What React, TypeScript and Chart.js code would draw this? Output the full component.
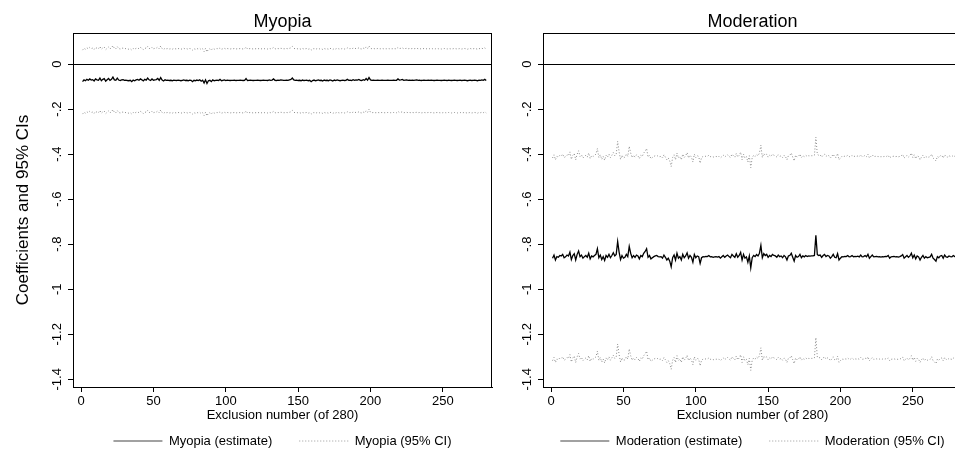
import React, { useEffect, useRef } from 'react';
import { Chart, registerables } from 'chart.js';

Chart.register(...registerables);

const FONT = '"Liberation Sans", Arial, Helvetica, sans-serif';

// ---------- data ----------
const exclusions = Array.from({ length: 280 }, (_, i) => i + 1);
const xTickValues = [0, 50, 100, 150, 200, 250];
const yTickValues = [0, -0.2, -0.4, -0.6, -0.8, -1, -1.2, -1.4];
const yTickLabels = ['0', '-.2', '-.4', '-.6', '-.8', '-1', '-1.2', '-1.4'];

const myopiaEstimate = [
  -0.078,-0.070,-0.074,-0.068,-0.072,-0.066,-0.071,-0.069,-0.075,-0.066,-0.070,-0.072,-0.062,-0.074,-0.068,-0.065,-0.076,-0.070,-0.064,-0.072,
  -0.068,-0.058,-0.070,-0.072,-0.062,-0.071,-0.073,-0.070,-0.069,-0.072,-0.071,-0.073,-0.074,-0.072,-0.078,-0.071,-0.074,-0.070,-0.068,-0.072,
  -0.066,-0.070,-0.075,-0.068,-0.071,-0.062,-0.070,-0.073,-0.066,-0.072,-0.070,-0.069,-0.064,-0.072,-0.060,-0.071,-0.075,-0.070,-0.072,-0.071,
  -0.073,-0.072,-0.074,-0.071,-0.072,-0.073,-0.071,-0.072,-0.074,-0.072,-0.070,-0.073,-0.072,-0.074,-0.071,-0.072,-0.078,-0.072,-0.074,-0.071,
  -0.073,-0.070,-0.076,-0.072,-0.084,-0.070,-0.086,-0.074,-0.072,-0.078,-0.070,-0.074,-0.072,-0.071,-0.073,-0.068,-0.074,-0.072,-0.070,-0.073,
  -0.071,-0.072,-0.073,-0.072,-0.072,-0.071,-0.073,-0.072,-0.072,-0.071,-0.072,-0.073,-0.072,-0.064,-0.073,-0.072,-0.071,-0.072,-0.073,-0.072,
  -0.072,-0.071,-0.072,-0.073,-0.072,-0.071,-0.072,-0.072,-0.073,-0.070,-0.072,-0.071,-0.066,-0.072,-0.073,-0.071,-0.072,-0.070,-0.071,-0.072,
  -0.072,-0.071,-0.072,-0.070,-0.068,-0.062,-0.070,-0.072,-0.071,-0.073,-0.072,-0.074,-0.071,-0.073,-0.072,-0.071,-0.074,-0.072,-0.078,-0.073,
  -0.071,-0.074,-0.072,-0.070,-0.073,-0.072,-0.075,-0.071,-0.073,-0.072,-0.074,-0.070,-0.072,-0.075,-0.071,-0.073,-0.070,-0.072,-0.074,-0.072,
  -0.071,-0.073,-0.072,-0.068,-0.072,-0.071,-0.073,-0.069,-0.072,-0.070,-0.071,-0.068,-0.072,-0.073,-0.069,-0.072,-0.064,-0.071,-0.060,-0.070,
  -0.072,-0.071,-0.072,-0.072,-0.071,-0.072,-0.072,-0.071,-0.072,-0.072,-0.072,-0.071,-0.072,-0.072,-0.072,-0.071,-0.072,-0.072,-0.066,-0.071,
  -0.070,-0.068,-0.072,-0.071,-0.070,-0.072,-0.071,-0.072,-0.071,-0.072,-0.071,-0.070,-0.072,-0.071,-0.073,-0.072,-0.071,-0.072,-0.072,-0.071,
  -0.072,-0.071,-0.072,-0.073,-0.072,-0.071,-0.072,-0.072,-0.073,-0.072,-0.071,-0.072,-0.073,-0.071,-0.072,-0.073,-0.072,-0.071,-0.072,-0.073,
  -0.072,-0.071,-0.073,-0.072,-0.071,-0.072,-0.074,-0.072,-0.071,-0.073,-0.072,-0.071,-0.072,-0.074,-0.071,-0.072,-0.070,-0.072,-0.068,-0.073,
];

const myopiaUpper = [
  0.062,0.070,0.066,0.072,0.068,0.074,0.069,0.071,0.065,0.074,0.070,0.068,0.078,0.066,0.072,0.075,0.064,0.070,0.076,0.068,
  0.072,0.082,0.070,0.068,0.078,0.069,0.067,0.070,0.071,0.068,0.069,0.067,0.066,0.068,0.062,0.069,0.066,0.070,0.072,0.068,
  0.074,0.070,0.065,0.072,0.069,0.078,0.070,0.067,0.074,0.068,0.070,0.071,0.076,0.068,0.080,0.069,0.065,0.070,0.068,0.069,
  0.067,0.068,0.066,0.069,0.068,0.067,0.069,0.068,0.066,0.068,0.070,0.067,0.068,0.066,0.069,0.068,0.062,0.068,0.066,0.069,
  0.067,0.070,0.064,0.068,0.056,0.070,0.054,0.066,0.068,0.062,0.070,0.066,0.068,0.069,0.067,0.072,0.066,0.068,0.070,0.067,
  0.069,0.068,0.067,0.068,0.068,0.069,0.067,0.068,0.068,0.069,0.068,0.067,0.068,0.076,0.067,0.068,0.069,0.068,0.067,0.068,
  0.068,0.069,0.068,0.067,0.068,0.069,0.068,0.068,0.067,0.070,0.068,0.069,0.074,0.068,0.067,0.069,0.068,0.070,0.069,0.068,
  0.068,0.069,0.068,0.070,0.072,0.078,0.070,0.068,0.069,0.067,0.068,0.066,0.069,0.067,0.068,0.069,0.066,0.068,0.062,0.067,
  0.069,0.066,0.068,0.070,0.067,0.068,0.065,0.069,0.067,0.068,0.066,0.070,0.068,0.065,0.069,0.067,0.070,0.068,0.066,0.068,
  0.069,0.067,0.068,0.072,0.068,0.069,0.067,0.071,0.068,0.070,0.069,0.072,0.068,0.067,0.071,0.068,0.076,0.069,0.080,0.070,
  0.068,0.069,0.068,0.068,0.069,0.068,0.068,0.069,0.068,0.068,0.068,0.069,0.068,0.068,0.068,0.069,0.068,0.068,0.074,0.069,
  0.070,0.072,0.068,0.069,0.070,0.068,0.069,0.068,0.069,0.068,0.069,0.070,0.068,0.069,0.067,0.068,0.069,0.068,0.068,0.069,
  0.068,0.069,0.068,0.067,0.068,0.069,0.068,0.068,0.067,0.068,0.069,0.068,0.067,0.069,0.068,0.067,0.068,0.069,0.068,0.067,
  0.068,0.069,0.067,0.068,0.069,0.068,0.066,0.068,0.069,0.067,0.068,0.069,0.068,0.066,0.069,0.068,0.070,0.068,0.072,0.067,
];

const myopiaLower = [
  -0.222,-0.214,-0.218,-0.212,-0.216,-0.210,-0.215,-0.213,-0.219,-0.210,-0.214,-0.216,-0.206,-0.218,-0.212,-0.209,-0.220,-0.214,-0.208,-0.216,
  -0.212,-0.202,-0.214,-0.216,-0.206,-0.215,-0.217,-0.214,-0.213,-0.216,-0.215,-0.217,-0.218,-0.216,-0.222,-0.215,-0.218,-0.214,-0.212,-0.216,
  -0.210,-0.214,-0.219,-0.212,-0.215,-0.206,-0.214,-0.217,-0.210,-0.216,-0.214,-0.213,-0.208,-0.216,-0.204,-0.215,-0.219,-0.214,-0.216,-0.215,
  -0.217,-0.216,-0.218,-0.215,-0.216,-0.217,-0.215,-0.216,-0.218,-0.216,-0.214,-0.217,-0.216,-0.218,-0.215,-0.216,-0.222,-0.216,-0.218,-0.215,
  -0.217,-0.214,-0.220,-0.216,-0.228,-0.214,-0.230,-0.218,-0.216,-0.222,-0.214,-0.218,-0.216,-0.215,-0.217,-0.212,-0.218,-0.216,-0.214,-0.217,
  -0.215,-0.216,-0.217,-0.216,-0.216,-0.215,-0.217,-0.216,-0.216,-0.215,-0.216,-0.217,-0.216,-0.208,-0.217,-0.216,-0.215,-0.216,-0.217,-0.216,
  -0.216,-0.215,-0.216,-0.217,-0.216,-0.215,-0.216,-0.216,-0.217,-0.214,-0.216,-0.215,-0.210,-0.216,-0.217,-0.215,-0.216,-0.214,-0.215,-0.216,
  -0.216,-0.215,-0.216,-0.214,-0.212,-0.206,-0.214,-0.216,-0.215,-0.217,-0.216,-0.218,-0.215,-0.217,-0.216,-0.215,-0.218,-0.216,-0.222,-0.217,
  -0.215,-0.218,-0.216,-0.214,-0.217,-0.216,-0.219,-0.215,-0.217,-0.216,-0.218,-0.214,-0.216,-0.219,-0.215,-0.217,-0.214,-0.216,-0.218,-0.216,
  -0.215,-0.217,-0.216,-0.212,-0.216,-0.215,-0.217,-0.213,-0.216,-0.214,-0.215,-0.212,-0.216,-0.217,-0.213,-0.216,-0.208,-0.215,-0.200,-0.214,
  -0.216,-0.215,-0.216,-0.216,-0.215,-0.216,-0.216,-0.215,-0.216,-0.216,-0.216,-0.215,-0.216,-0.216,-0.216,-0.215,-0.216,-0.216,-0.210,-0.215,
  -0.214,-0.212,-0.216,-0.215,-0.214,-0.216,-0.215,-0.216,-0.215,-0.216,-0.215,-0.214,-0.216,-0.215,-0.217,-0.216,-0.215,-0.216,-0.216,-0.215,
  -0.216,-0.215,-0.216,-0.217,-0.216,-0.215,-0.216,-0.216,-0.217,-0.216,-0.215,-0.216,-0.217,-0.215,-0.216,-0.217,-0.216,-0.215,-0.216,-0.217,
  -0.216,-0.215,-0.217,-0.216,-0.215,-0.216,-0.218,-0.216,-0.215,-0.217,-0.216,-0.215,-0.216,-0.218,-0.215,-0.216,-0.214,-0.216,-0.212,-0.217,
];

const moderationEstimate = [
  -0.862,-0.848,-0.870,-0.855,-0.858,-0.850,-0.852,-0.845,-0.860,-0.856,-0.848,-0.852,-0.835,-0.868,-0.850,-0.842,-0.870,-0.845,-0.830,-0.855,
  -0.848,-0.862,-0.855,-0.850,-0.858,-0.840,-0.865,-0.852,-0.856,-0.850,-0.845,-0.820,-0.860,-0.848,-0.868,-0.855,-0.872,-0.850,-0.858,-0.845,
  -0.860,-0.850,-0.838,-0.852,-0.845,-0.788,-0.835,-0.868,-0.850,-0.862,-0.858,-0.845,-0.855,-0.810,-0.840,-0.860,-0.850,-0.858,-0.848,-0.852,
  -0.865,-0.850,-0.855,-0.840,-0.832,-0.820,-0.858,-0.850,-0.865,-0.860,-0.855,-0.852,-0.850,-0.855,-0.856,-0.855,-0.862,-0.848,-0.858,-0.870,
  -0.862,-0.875,-0.900,-0.860,-0.848,-0.870,-0.840,-0.862,-0.855,-0.870,-0.845,-0.860,-0.852,-0.838,-0.862,-0.850,-0.858,-0.880,-0.845,-0.860,
  -0.852,-0.855,-0.885,-0.860,-0.855,-0.856,-0.854,-0.855,-0.850,-0.856,-0.855,-0.858,-0.856,-0.855,-0.857,-0.855,-0.862,-0.856,-0.850,-0.858,
  -0.852,-0.848,-0.855,-0.860,-0.845,-0.852,-0.858,-0.842,-0.858,-0.850,-0.836,-0.870,-0.845,-0.862,-0.856,-0.880,-0.852,-0.905,-0.860,-0.850,
  -0.855,-0.846,-0.852,-0.840,-0.805,-0.860,-0.842,-0.850,-0.845,-0.858,-0.850,-0.855,-0.845,-0.850,-0.852,-0.858,-0.848,-0.855,-0.852,-0.860,
  -0.850,-0.856,-0.870,-0.852,-0.850,-0.840,-0.858,-0.875,-0.850,-0.858,-0.855,-0.845,-0.860,-0.852,-0.856,-0.850,-0.855,-0.852,-0.853,-0.852,
  -0.852,-0.850,-0.760,-0.846,-0.850,-0.848,-0.858,-0.850,-0.845,-0.855,-0.850,-0.852,-0.862,-0.855,-0.845,-0.858,-0.860,-0.842,-0.870,-0.862,
  -0.855,-0.856,-0.854,-0.855,-0.850,-0.856,-0.855,-0.850,-0.856,-0.854,-0.855,-0.853,-0.856,-0.848,-0.856,-0.855,-0.850,-0.856,-0.845,-0.862,
  -0.855,-0.848,-0.856,-0.855,-0.854,-0.856,-0.855,-0.857,-0.855,-0.856,-0.854,-0.855,-0.850,-0.862,-0.856,-0.855,-0.854,-0.856,-0.855,-0.857,
  -0.855,-0.852,-0.846,-0.862,-0.856,-0.850,-0.858,-0.852,-0.840,-0.860,-0.848,-0.865,-0.852,-0.856,-0.870,-0.858,-0.850,-0.862,-0.855,-0.860,
  -0.858,-0.856,-0.845,-0.862,-0.868,-0.875,-0.855,-0.860,-0.852,-0.850,-0.862,-0.848,-0.856,-0.858,-0.852,-0.855,-0.856,-0.850,-0.855,-0.855,
];

const moderationUpper = [
  -0.417,-0.403,-0.425,-0.410,-0.413,-0.405,-0.407,-0.400,-0.415,-0.411,-0.403,-0.407,-0.390,-0.423,-0.405,-0.397,-0.425,-0.400,-0.385,-0.410,
  -0.403,-0.417,-0.410,-0.405,-0.413,-0.395,-0.420,-0.407,-0.411,-0.405,-0.400,-0.375,-0.415,-0.403,-0.423,-0.410,-0.427,-0.405,-0.413,-0.400,
  -0.415,-0.405,-0.393,-0.407,-0.400,-0.343,-0.390,-0.423,-0.405,-0.417,-0.413,-0.400,-0.410,-0.365,-0.395,-0.415,-0.405,-0.413,-0.403,-0.407,
  -0.420,-0.405,-0.410,-0.395,-0.387,-0.375,-0.413,-0.405,-0.420,-0.415,-0.410,-0.407,-0.405,-0.410,-0.411,-0.410,-0.417,-0.403,-0.413,-0.425,
  -0.417,-0.430,-0.455,-0.415,-0.403,-0.425,-0.395,-0.417,-0.410,-0.425,-0.400,-0.415,-0.407,-0.393,-0.417,-0.405,-0.413,-0.435,-0.400,-0.415,
  -0.407,-0.410,-0.440,-0.415,-0.410,-0.411,-0.409,-0.410,-0.405,-0.411,-0.410,-0.413,-0.411,-0.410,-0.412,-0.410,-0.417,-0.411,-0.405,-0.413,
  -0.407,-0.403,-0.410,-0.415,-0.400,-0.407,-0.413,-0.397,-0.413,-0.405,-0.391,-0.425,-0.400,-0.417,-0.411,-0.435,-0.407,-0.460,-0.415,-0.405,
  -0.410,-0.401,-0.407,-0.395,-0.360,-0.415,-0.397,-0.405,-0.400,-0.413,-0.405,-0.410,-0.400,-0.405,-0.407,-0.413,-0.403,-0.410,-0.407,-0.415,
  -0.405,-0.411,-0.425,-0.407,-0.405,-0.395,-0.413,-0.430,-0.405,-0.413,-0.410,-0.400,-0.415,-0.407,-0.411,-0.405,-0.410,-0.407,-0.408,-0.407,
  -0.407,-0.405,-0.325,-0.401,-0.405,-0.403,-0.413,-0.405,-0.400,-0.410,-0.405,-0.407,-0.417,-0.410,-0.400,-0.413,-0.415,-0.397,-0.425,-0.417,
  -0.410,-0.411,-0.409,-0.410,-0.405,-0.411,-0.410,-0.405,-0.411,-0.409,-0.410,-0.408,-0.411,-0.403,-0.411,-0.410,-0.405,-0.411,-0.400,-0.417,
  -0.410,-0.403,-0.411,-0.410,-0.409,-0.411,-0.410,-0.412,-0.410,-0.411,-0.409,-0.410,-0.405,-0.417,-0.411,-0.410,-0.409,-0.411,-0.410,-0.412,
  -0.410,-0.407,-0.401,-0.417,-0.411,-0.405,-0.413,-0.407,-0.395,-0.415,-0.403,-0.420,-0.407,-0.411,-0.425,-0.413,-0.405,-0.417,-0.410,-0.415,
  -0.413,-0.411,-0.400,-0.417,-0.423,-0.430,-0.410,-0.415,-0.407,-0.405,-0.417,-0.403,-0.411,-0.413,-0.407,-0.410,-0.411,-0.405,-0.410,-0.410,
];

const moderationLower = [
  -1.317,-1.303,-1.325,-1.310,-1.313,-1.305,-1.307,-1.300,-1.315,-1.311,-1.303,-1.307,-1.290,-1.323,-1.305,-1.297,-1.325,-1.300,-1.285,-1.310,
  -1.303,-1.317,-1.310,-1.305,-1.313,-1.295,-1.320,-1.307,-1.311,-1.305,-1.300,-1.275,-1.315,-1.303,-1.323,-1.310,-1.327,-1.305,-1.313,-1.300,
  -1.315,-1.305,-1.293,-1.307,-1.300,-1.243,-1.290,-1.323,-1.305,-1.317,-1.313,-1.300,-1.310,-1.265,-1.295,-1.315,-1.305,-1.313,-1.303,-1.307,
  -1.320,-1.305,-1.310,-1.295,-1.287,-1.275,-1.313,-1.305,-1.320,-1.315,-1.310,-1.307,-1.305,-1.310,-1.311,-1.310,-1.317,-1.303,-1.313,-1.325,
  -1.317,-1.330,-1.355,-1.315,-1.303,-1.325,-1.295,-1.317,-1.310,-1.325,-1.300,-1.315,-1.307,-1.293,-1.317,-1.305,-1.313,-1.335,-1.300,-1.315,
  -1.307,-1.310,-1.340,-1.315,-1.310,-1.311,-1.309,-1.310,-1.305,-1.311,-1.310,-1.313,-1.311,-1.310,-1.312,-1.310,-1.317,-1.311,-1.305,-1.313,
  -1.307,-1.303,-1.310,-1.315,-1.300,-1.307,-1.313,-1.297,-1.313,-1.305,-1.291,-1.325,-1.300,-1.317,-1.311,-1.335,-1.307,-1.360,-1.315,-1.305,
  -1.310,-1.301,-1.307,-1.295,-1.260,-1.315,-1.297,-1.305,-1.300,-1.313,-1.305,-1.310,-1.300,-1.305,-1.307,-1.313,-1.303,-1.310,-1.307,-1.315,
  -1.305,-1.311,-1.325,-1.307,-1.305,-1.295,-1.313,-1.330,-1.305,-1.313,-1.310,-1.300,-1.315,-1.307,-1.311,-1.305,-1.310,-1.307,-1.308,-1.307,
  -1.307,-1.305,-1.215,-1.301,-1.305,-1.303,-1.313,-1.305,-1.300,-1.310,-1.305,-1.307,-1.317,-1.310,-1.300,-1.313,-1.315,-1.297,-1.325,-1.317,
  -1.310,-1.311,-1.309,-1.310,-1.305,-1.311,-1.310,-1.305,-1.311,-1.309,-1.310,-1.308,-1.311,-1.303,-1.311,-1.310,-1.305,-1.311,-1.300,-1.317,
  -1.310,-1.303,-1.311,-1.310,-1.309,-1.311,-1.310,-1.312,-1.310,-1.311,-1.309,-1.310,-1.305,-1.317,-1.311,-1.310,-1.309,-1.311,-1.310,-1.312,
  -1.310,-1.307,-1.301,-1.317,-1.311,-1.305,-1.313,-1.307,-1.295,-1.315,-1.303,-1.320,-1.307,-1.311,-1.325,-1.313,-1.305,-1.317,-1.310,-1.315,
  -1.313,-1.311,-1.300,-1.317,-1.323,-1.330,-1.310,-1.315,-1.307,-1.305,-1.317,-1.303,-1.311,-1.313,-1.307,-1.310,-1.311,-1.305,-1.310,-1.310,
];

// ---------- chart ----------
const CI_COLOR = '#8a8a8a';
const LEGEND_EXTRA = 80;

const framePlugin = {
  id: 'frame',
  afterDatasetsDraw(chart: any) {
    const { ctx, chartArea: a } = chart;
    ctx.save();
    ctx.strokeStyle = '#000';
    ctx.lineWidth = 1;
    ctx.beginPath();
    ctx.moveTo(a.left, a.top + 0.5);
    ctx.lineTo(a.right, a.top + 0.5);
    ctx.moveTo(a.right - 0.5, a.top);
    ctx.lineTo(a.right - 0.5, a.bottom);
    ctx.stroke();
    ctx.restore();
  },
};

// keeps the two legend entries on one row, centred under the plot region
const legendRowPlugin = {
  id: 'legendRow',
  beforeLayout(chart: any) {
    const lg = chart.legend;
    if (lg && !lg.__rowPatched) {
      const orig = lg.update.bind(lg);
      lg.update = (mw: number, mh: number, m: any) => orig(mw + LEGEND_EXTRA, mh, m);
      lg.__rowPatched = true;
    }
  },
  afterLayout(chart: any) {
    const lg = chart.legend;
    if (lg) {
      lg.left -= LEGEND_EXTRA / 2;
      lg.right += LEGEND_EXTRA / 2;
      lg.width = lg.right - lg.left;
    }
  },
};

type PanelProps = {
  title: string;
  estLabel: string;
  ciLabel: string;
  est: number[];
  upper: number[];
  lower: number[];
  showYTitle: boolean;
  yAxisWidth: number;
  left: number;
  width: number;
};

function Panel(p: PanelProps) {
  const ref = useRef<HTMLCanvasElement>(null);
  useEffect(() => {
    if (!ref.current) return;
    const pts = (arr: number[]) => arr.map((y, i) => ({ x: exclusions[i], y }));
    const tickFont = { size: 13, family: FONT };
    const chart = new Chart(ref.current, {
      type: 'line',
      data: {
        datasets: [
          { label: p.ciLabel, data: pts(p.upper), borderColor: CI_COLOR, borderWidth: 1, borderDash: [1, 2], pointRadius: 0, tension: 0, fill: false },
          { label: p.ciLabel + ' (lower)', data: pts(p.lower), borderColor: CI_COLOR, borderWidth: 1, borderDash: [1, 2], pointRadius: 0, tension: 0, fill: false },
          { label: p.estLabel, data: pts(p.est), borderColor: '#000', borderWidth: 1.3, pointRadius: 0, tension: 0, fill: false },
        ],
      } as any,
      options: {
        responsive: false,
        animation: false,
        events: [],
        layout: { padding: { left: 0, right: 8, top: 0, bottom: -2.5 } },
        scales: {
          x: {
            type: 'linear',
            min: -5.6,
            max: 284,
            afterBuildTicks: (s: any) => { s.ticks = xTickValues.map((v) => ({ value: v })); },
            afterFit: (s: any) => { s.height = 20.5; },
            grid: { drawOnChartArea: false, drawTicks: true, tickLength: 5, tickColor: '#000', tickWidth: 1 },
            border: { display: true, color: '#000', width: 1 },
            ticks: { color: '#000', font: tickFont, padding: 2, maxRotation: 0, minRotation: 0, autoSkip: false },
            title: { display: true, text: 'Exclusion number (of 280)', color: '#000', font: tickFont, padding: { top: 0, bottom: -16 } },
          },
          y: {
            type: 'linear',
            min: -1.434,
            max: 0.138,
            afterBuildTicks: (s: any) => { s.ticks = yTickValues.map((v) => ({ value: v })); },
            afterFit: (s: any) => { s.width = p.yAxisWidth; },
            grid: {
              drawOnChartArea: true,
              color: (c: any) => (c.tick && c.tick.value === 0 ? '#000' : 'rgba(0,0,0,0)'),
              lineWidth: 1,
              drawTicks: true,
              tickLength: 5,
              tickColor: '#000',
              tickWidth: 1,
            },
            border: { display: true, color: '#000', width: 1 },
            ticks: {
              color: '#000',
              font: tickFont,
              padding: -1,
              minRotation: 90,
              maxRotation: 90,
              crossAlign: 'center',
              autoSkip: false,
              callback: (v: any) => {
                const i = yTickValues.findIndex((t) => Math.abs(t - Number(v)) < 1e-9);
                return i >= 0 ? yTickLabels[i] : '';
              },
            },
            title: { display: p.showYTitle, text: 'Coefficients and 95% CIs', color: '#000', font: { size: 17, family: FONT }, padding: { top: 13, bottom: 0 } },
          },
        },
        plugins: {
          title: {
            display: true,
            text: p.title,
            fullSize: false,
            color: '#000',
            font: { size: 18, weight: 'normal', family: FONT },
            padding: { top: 11, bottom: 0.4 },
          },
          legend: {
            position: 'bottom',
            fullSize: false,
            labels: {
              usePointStyle: true,
              pointStyleWidth: 49,
              boxHeight: 8,
              padding: 27,
              color: '#000',
              font: tickFont,
              generateLabels: () => [
                { text: p.estLabel, pointStyle: 'line', strokeStyle: '#444', fillStyle: 'rgba(0,0,0,0)', lineWidth: 1.2, lineDash: [], hidden: false, datasetIndex: 2, fontColor: '#000' },
                { text: p.ciLabel, pointStyle: 'line', strokeStyle: '#999', fillStyle: 'rgba(0,0,0,0)', lineWidth: 1, lineDash: [1, 2], hidden: false, datasetIndex: 0, fontColor: '#000' },
              ],
            },
          },
          tooltip: { enabled: false },
        },
      } as any,
      plugins: [framePlugin, legendRowPlugin],
    });
    return () => chart.destroy();
  }, []);
  return (
    <canvas
      ref={ref}
      width={p.width}
      height={455}
      style={{ position: 'absolute', left: p.left, top: 0, width: p.width, height: 455 }}
    />
  );
}

export default function App() {
  Chart.defaults.font.family = FONT;
  return (
    <div style={{ position: 'absolute', left: 0, top: 0, width: 955, height: 455, overflow: 'hidden', background: '#fff' }}>
      <Panel
        title="Myopia"
        estLabel="Myopia (estimate)"
        ciLabel="Myopia (95% CI)"
        est={myopiaEstimate}
        upper={myopiaUpper}
        lower={myopiaLower}
        showYTitle={true}
        yAxisWidth={73}
        left={0}
        width={500}
      />
      <Panel
        title="Moderation"
        estLabel="Moderation (estimate)"
        ciLabel="Moderation (95% CI)"
        est={moderationEstimate}
        upper={moderationUpper}
        lower={moderationLower}
        showYTitle={false}
        yAxisWidth={43}
        left={500}
        width={470}
      />
    </div>
  );
}
